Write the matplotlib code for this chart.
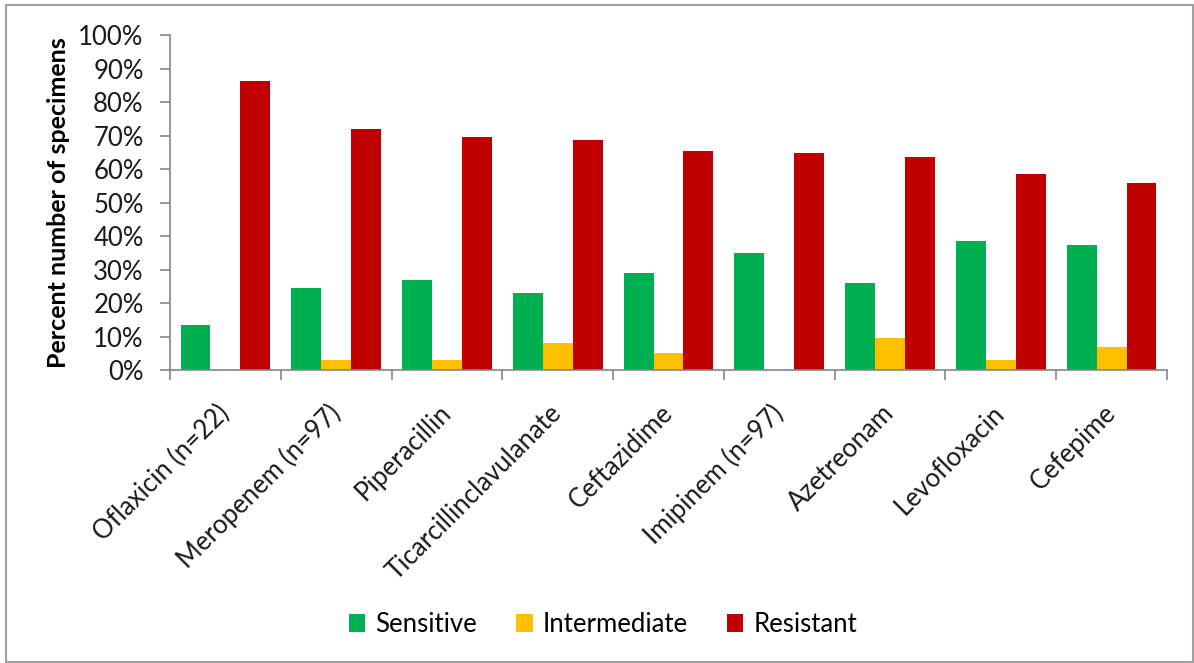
import matplotlib.pyplot as plt
import numpy as np
from matplotlib.patches import Rectangle
from matplotlib.ticker import FixedLocator, PercentFormatter

plt.rcParams['font.family'] = ['Lato', 'DejaVu Sans']

drugs = ['Oflaxicin (n=22)', 'Meropenem (n=97)', 'Piperacillin',
         'Ticarcillinclavulanate', 'Ceftazidime', 'Imipinem (n=97)',
         'Azetreonam', 'Levofloxacin', 'Cefepime']
sensitive = [13.5, 24.5, 27.0, 23.1, 29.1, 34.9, 26.0, 38.4, 37.2]
intermediate = [0, 3.0, 3.0, 8.0, 5.1, 0, 9.7, 3.0, 7.0]
resistant = [86.3, 72.0, 69.7, 68.6, 65.4, 64.9, 63.5, 58.4, 55.7]

series = [('Sensitive', sensitive, '#00B050'),
          ('Intermediate', intermediate, '#FFC000'),
          ('Resistant', resistant, '#C00000')]

fig = plt.figure(figsize=(11.94, 6.63), dpi=100)
ax = fig.add_axes([0.1424, 0.4419, 0.835, 0.5053])

x = np.arange(len(drugs))
w = 0.27
for i, (name, vals, col) in enumerate(series):
    ax.bar(x + (i - 1) * w, vals, w, color=col, label=name)

ax.set_xlim(-0.5, len(drugs) - 0.5)
ax.set_ylim(0, 100)
ax.set_yticks(np.arange(0, 101, 10))
ax.yaxis.set_major_formatter(PercentFormatter(decimals=0))

# category boundaries get the tick marks, labels sit at the centres
ax.xaxis.set_major_locator(FixedLocator(np.arange(-0.5, len(drugs), 1)))
ax.xaxis.set_minor_locator(FixedLocator(x))
ax.set_xticklabels([''] * (len(drugs) + 1))
ax.set_xticklabels(drugs, minor=True, rotation=45, ha='right', va='center',
                   rotation_mode='anchor')
ax.tick_params(axis='x', which='major', length=7, color='#868686', width=1.2)
ax.tick_params(axis='x', which='minor', length=0, pad=28, labelsize=18.5,
               labelcolor='#1a1a1a')
ax.tick_params(axis='y', length=7, color='#868686', width=1.2, labelsize=18.5,
               labelcolor='#1a1a1a', pad=12)

for s in ['top', 'right']:
    ax.spines[s].set_visible(False)
for s in ['left', 'bottom']:
    ax.spines[s].set_color('#868686')
    ax.spines[s].set_linewidth(1.2)

ax.set_ylabel('Percent number of specimens', fontsize=18, fontweight='bold',
              labelpad=6)

fig.legend(loc='center', bbox_to_anchor=(0.505, 0.058), ncol=3, frameon=False,
           fontsize=18.5, handlelength=0.65, handleheight=0.65,
           handletextpad=0.4, columnspacing=1.5)

fig.patches.append(Rectangle((0.005, 0.002), 0.994, 0.99, transform=fig.transFigure,
                             fill=False, edgecolor='#a0a0a0', linewidth=1.5))

fig.savefig('out.png', dpi=100)
